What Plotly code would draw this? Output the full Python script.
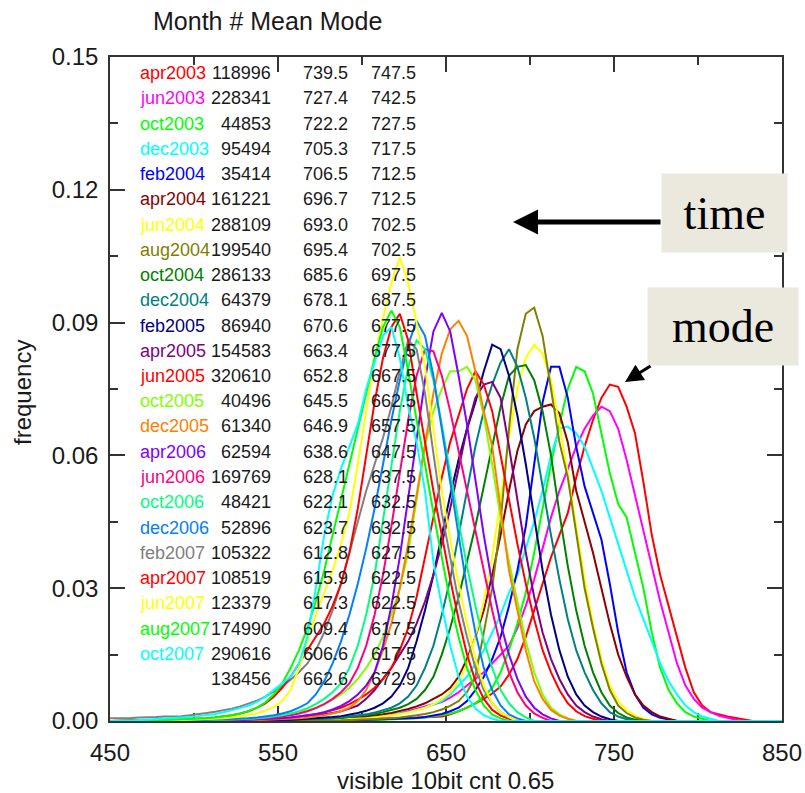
import numpy as np
import plotly.graph_objects as go

# ---- table rows: month, pixel count, mean, mode ----
months = ["apr2003", "jun2003", "oct2003", "dec2003", "feb2004", "apr2004",
          "jun2004", "aug2004", "oct2004", "dec2004", "feb2005", "apr2005",
          "jun2005", "oct2005", "dec2005", "apr2006", "jun2006", "oct2006",
          "dec2006", "feb2007", "apr2007", "jun2007", "aug2007", "oct2007"]
counts = [118996, 228341, 44853, 95494, 35414, 161221, 288109, 199540,
          286133, 64379, 86940, 154583, 320610, 40496, 61340, 62594,
          169769, 48421, 52896, 105322, 108519, 123379, 174990, 290616]
means = [739.5, 727.4, 722.2, 705.3, 706.5, 696.7, 693.0, 695.4, 685.6,
         678.1, 670.6, 663.4, 652.8, 645.5, 646.9, 638.6, 628.1, 622.1,
         623.7, 612.8, 615.9, 617.3, 609.4, 606.6]
modes = [747.5, 742.5, 727.5, 717.5, 712.5, 712.5, 702.5, 702.5, 697.5,
         687.5, 677.5, 677.5, 667.5, 662.5, 657.5, 647.5, 637.5, 632.5,
         632.5, 627.5, 622.5, 622.5, 617.5, 617.5]
total_count, total_mean, total_mode = 138456, 662.6, 672.9

colors = ["#FF0000", "#FF00FF", "#00FF00", "#00FFFF", "#0000FF", "#8B0000",
          "#FFFF00", "#808000", "#008000", "#008080", "#000080", "#800080",
          "#FF0000", "#80FF00", "#FF8000", "#8000FF", "#FF0080", "#00FF80",
          "#0080FF", "#808080", "#FF0000", "#FFFF00", "#00FF00", "#00FFFF"]

# ---- histograms: frequency x 1000 per 5-count bin, listed from first_bin ----
BIN = 5.0
first_bin = [587.5, 582.5, 602.5, 572.5, 592.5, 567.5, 577.5, 587.5, 552.5,
             547.5, 532.5, 522.5, 517.5, 512.5, 532.5, 522.5, 512.5, 507.5,
             497.5, 447.5, 482.5, 492.5, 477.5, 467.5]

f_apr2003 = [0.2, 0.25, 0.3, 0.35, 0.4, 0.45, 0.5, 0.55, 0.6, 0.7, 0.8, 0.9, 1.0, 1.5,
             2.2, 3.0, 4.0, 5.0, 6.2, 7.8, 10.5, 14, 19, 25, 31, 37, 42, 47, 55, 62,
             68, 73, 76, 75.5, 71, 65, 54, 42, 33, 26, 19, 12, 6.5, 3.5, 2, 1.5, 1,
             0.7, 0.3]
f_jun2003 = [0.2, 0.25, 0.3, 0.4, 0.5, 0.7, 1.0, 1.3, 1.7, 2.2, 2.8, 3.3, 3.8, 4.3,
             5.3, 6.5, 8, 9.5, 11, 13, 15, 17, 21, 26, 32, 39, 46, 52, 57, 62, 66,
             69, 71, 70, 66, 59, 51, 43, 35, 27, 20, 13, 8, 5, 3, 2, 1.2, 0.7, 0.3]
f_oct2003 = [0.15, 0.2, 0.25, 0.3, 0.35, 0.4, 0.6, 0.8, 1.0, 1.3, 1.7, 2.2, 3, 4,
             5.5, 7.5, 11, 16, 22, 29, 38, 48, 58, 67, 75, 80, 79, 74, 65, 56, 49,
             46, 38, 30, 20, 12, 7, 4, 2, 1, 0.5]
f_dec2003 = [0.2, 0.25, 0.3, 0.35, 0.4, 0.5, 0.7, 0.9, 1.1, 1.4, 1.7, 2, 2.5, 3,
             3.7, 4.5, 6, 8, 10, 13, 16, 20, 24, 29, 33, 39, 45, 52, 60, 66, 66.5,
             65, 62, 57, 52, 46, 40, 34, 28, 23, 18, 13, 9, 6, 3.5, 2, 1, 0.5]
f_feb2004 = [0.15, 0.2, 0.25, 0.3, 0.35, 0.4, 0.45, 0.5, 0.7, 0.9, 1.2, 1.6, 2.2, 3,
             4.5, 7, 10, 14, 19, 26, 34, 44, 58, 72, 80, 80, 73, 62, 53, 47, 41,
             31, 20, 11, 6, 3, 1.5, 0.7, 0.3]
f_apr2004 = [0.25, 0.3, 0.35, 0.4, 0.5, 0.6, 0.8, 1.0, 1.2, 1.5, 1.8, 2.2, 2.7, 3.3,
             4, 5, 6, 7.5, 10, 14, 19, 25, 33, 42, 52, 61, 67, 70, 71, 71.5, 69.5,
             63, 52, 45, 38, 30, 22, 15, 10, 6, 3.5, 2, 1, 0.5]
f_jun2004 = [0.2, 0.25, 0.3, 0.4, 0.5, 0.6, 0.8, 1.0, 1.2, 1.5, 1.9, 2.4, 3, 3.8, 5,
             6.5, 9, 13, 19, 27, 37, 50, 64, 75, 82, 85, 83, 77, 67, 56, 44, 32,
             22, 14, 8, 4.5, 2.5, 1.2, 0.5]
f_aug2004 = [0.15, 0.2, 0.25, 0.3, 0.4, 0.5, 0.6, 0.8, 1.0, 1.3, 1.6, 2.0, 2.6, 3.4,
             4.5, 6.5, 10, 20, 30, 45, 66, 84, 92, 93.4, 87, 75, 63, 55, 42, 30, 21,
             13, 7, 3.5, 1.8, 0.8, 0.3]
f_oct2004 = [0.2, 0.25, 0.3, 0.35, 0.4, 0.5, 0.6, 0.7, 0.9, 1.1, 1.3, 1.6, 2, 2.5, 3,
             3.8, 5, 7, 10, 15, 21, 28, 36, 44, 53, 62, 71, 78, 80, 80.4, 77, 70,
             60, 47, 35, 25, 17, 11, 6.5, 3.5, 1.8, 0.8, 0.3]
f_dec2004 = [0.2, 0.25, 0.3, 0.35, 0.4, 0.45, 0.5, 0.6, 0.8, 1.0, 1.2, 1.5, 1.9, 2.4,
             3, 4, 5.5, 8, 12, 17, 24, 32, 42, 52, 62, 70, 76, 81, 84, 80, 73, 64,
             53, 42, 32, 23, 16, 11, 7, 4, 2, 1, 0.4]
f_feb2005 = [0.15, 0.2, 0.2, 0.25, 0.3, 0.3, 0.4, 0.5, 0.6, 0.7, 0.9, 1.1, 1.4, 1.8,
             2.3, 3, 4, 5.5, 8, 12, 18, 25, 33, 42, 51, 59, 66, 72, 79, 85, 84, 78,
             69, 58, 46, 34, 24, 16, 10, 6, 3.5, 2, 1, 0.4]
f_apr2005 = [0.2, 0.25, 0.3, 0.3, 0.35, 0.4, 0.5, 0.6, 0.8, 1.0, 1.2, 1.5, 1.8, 2.2,
             2.8, 3.5, 5, 7, 9.5, 12, 15, 18, 22, 27, 33, 40, 48, 57, 66, 73, 76,
             76.6, 73, 62, 50, 38, 28, 20, 14, 9.5, 6, 3.5, 2, 1, 0.4]
f_jun2005 = [0.15, 0.2, 0.2, 0.25, 0.3, 0.4, 0.5, 0.6, 0.8, 1.0, 1.2, 1.5, 1.9, 2.4,
             3, 3.8, 4.8, 6, 7.5, 9.5, 12, 16, 21, 28, 37, 46, 55, 63, 69, 75, 79,
             76, 70, 60, 50, 40, 31, 23, 16, 11, 7, 4, 2.2, 1.1, 0.5]
f_oct2005 = [0.2, 0.25, 0.3, 0.4, 0.5, 0.6, 0.8, 1.0, 1.2, 1.5, 1.9, 2.4, 3, 3.8,
             4.8, 6, 7.5, 9.5, 12, 15, 19, 24, 30, 38, 50, 62, 70, 75, 79, 79, 80,
             77, 69, 58, 46, 36, 27, 18, 11, 6, 3, 1.5, 0.6]
f_dec2005 = [0.15, 0.2, 0.25, 0.3, 0.4, 0.5, 0.6, 0.8, 1.0, 1.3, 1.7, 2.2, 3, 4.5, 7,
             11, 16, 22, 30, 40, 51, 63, 74, 83, 88.5, 90.4, 87, 79, 70, 62, 48, 34,
             25, 16, 9, 5, 2.5, 1.2, 0.5]
f_apr2006 = [0.15, 0.2, 0.25, 0.3, 0.4, 0.5, 0.6, 0.8, 1.0, 1.3, 1.6, 2.0, 2.6, 3.4,
             4.5, 6, 8, 11, 17, 26, 37, 50, 64, 77, 88, 92.2, 88, 78, 67, 54, 42,
             31, 22, 15, 9.5, 5.5, 3, 1.5, 0.6]
f_jun2006 = [0.15, 0.2, 0.25, 0.3, 0.4, 0.5, 0.6, 0.8, 1.0, 1.3, 1.7, 2.2, 2.9, 3.8,
             5, 6.5, 8.5, 12, 17, 24, 33, 44, 56, 68, 78, 84, 83.5, 78, 70, 61, 52,
             43, 34, 25, 17, 11, 6.5, 3.5, 1.7, 0.7]
f_oct2006 = [0.15, 0.2, 0.25, 0.3, 0.4, 0.5, 0.6, 0.8, 1.0, 1.3, 1.7, 2.2, 2.9, 3.8,
             5, 6.5, 8.5, 12, 17, 24, 33, 45, 58, 70, 80, 86, 84, 77, 67, 56, 45,
             35, 26, 18, 12, 7, 4, 2, 0.8]
f_dec2006 = [0.15, 0.2, 0.25, 0.3, 0.3, 0.4, 0.5, 0.6, 0.8, 1.0, 1.3, 1.7, 2.2, 3, 4,
             6, 9, 13, 18, 24, 31, 39, 48, 58, 68, 77, 85, 90.4, 87, 78, 66, 53,
             42, 30, 20, 12, 7, 3.5, 1.5, 0.6]
f_feb2007 = [0.6, 0.6, 0.7, 0.7, 0.8, 0.8, 0.9, 1.0, 1.0, 1.1, 1.3, 1.5, 1.8, 2.1,
             2.4, 2.8, 3.3, 3.9, 4.6, 5.5, 6.6, 7.8, 9.3, 11, 13, 16, 20, 25, 31,
             38, 45, 52, 58, 64, 71, 79, 86, 84, 74, 60, 47, 37, 27, 19, 12, 7, 4,
             2, 0.8]
f_apr2007 = [0.2, 0.25, 0.3, 0.4, 0.5, 0.6, 0.8, 1.0, 1.3, 1.7, 2.2, 3, 4, 5.5, 7.5,
             10, 13, 16, 19, 22, 26, 31, 38, 48, 60, 72, 82, 89, 92, 86, 74, 63, 52,
             42, 32, 23, 15, 9, 5, 2.5, 1.2, 0.5]
f_jun2007 = [0.2, 0.25, 0.3, 0.4, 0.5, 0.6, 0.8, 1.0, 1.3, 1.7, 2.3, 3.2, 4.5, 7, 12,
             18, 24, 29, 34, 40, 47, 58, 70, 82, 91, 99, 104.7, 99, 90, 80, 66, 52,
             41, 31, 22, 14, 8, 4, 2, 0.8]
f_aug2007 = [0.15, 0.2, 0.25, 0.3, 0.4, 0.5, 0.6, 0.8, 1.0, 1.3, 1.7, 2.2, 3, 4.2, 6,
             8.5, 12, 16, 21, 27, 34, 42, 50, 58, 66, 74, 82, 89, 92.7, 89, 79, 68,
             58, 47, 37, 27, 19, 12, 7, 3.5, 1.5, 0.6]
f_oct2007 = [0.2, 0.3, 0.4, 0.5, 0.6, 0.7, 0.9, 1.1, 1.3, 1.6, 2.0, 2.4, 2.9, 3.5,
             4.3, 5.5, 7, 8.5, 10, 13, 19, 30, 42, 51, 57, 62, 67, 75, 81, 87, 89,
             82, 71, 63, 52, 36, 26, 17, 10, 5.5, 2.8, 1.3, 0.5]

histograms = [f_apr2003, f_jun2003, f_oct2003, f_dec2003, f_feb2004, f_apr2004,
              f_jun2004, f_aug2004, f_oct2004, f_dec2004, f_feb2005, f_apr2005,
              f_jun2005, f_oct2005, f_dec2005, f_apr2006, f_jun2006, f_oct2006,
              f_dec2006, f_feb2007, f_apr2007, f_jun2007, f_aug2007, f_oct2007]

# full bin grid; bins with no entries are empty (frequency 0)
grid = np.arange(447.5, 853.0, BIN)

fig = go.Figure()
for name, start, vals, col in zip(months, first_bin, histograms, colors):
    y = np.zeros_like(grid)
    i0 = int(round((start - grid[0]) / BIN))
    y[i0:i0 + len(vals)] = np.asarray(vals) / 1000.0
    fig.add_trace(go.Scatter(x=grid, y=y, mode="lines", name=name,
                             line=dict(color=col, width=2), showlegend=False))

# ---- geometry (pixels) ----
W, H = 805, 793
L, R, T, B = 110, 23, 57, 72
PW, PH = W - L - R, H - T - B


def fx(px):
    return (px - L) / PW


def fy(py):
    return (H - B - py) / PH


FONT = "Liberation Sans, Arial, Helvetica, sans-serif"
INK = "#1a1a1a"
AX = "#333333"

axis_common = dict(showline=True, linecolor=AX, linewidth=1.5, mirror="ticks",
                   ticks="inside", tickcolor=AX, tickwidth=1.5, ticklen=15,
                   showgrid=False, zeroline=False, automargin=False,
                   layer="below traces",
                   tickfont=dict(family=FONT, size=24, color=INK))

fig.update_xaxes(range=[450, 850], tickvals=[450, 550, 650, 750, 850],
                 minor=dict(tickvals=[500, 600, 700, 800], ticks="inside",
                            ticklen=8, tickcolor=AX, tickwidth=1.5),
                 ticklabelstandoff=9, **axis_common)
fig.update_yaxes(range=[0, 0.15], tickvals=[0, 0.03, 0.06, 0.09, 0.12, 0.15],
                 tickformat=".2f",
                 minor=dict(tickvals=[0.015, 0.045, 0.075, 0.105, 0.135],
                            ticks="inside", ticklen=8, tickcolor=AX, tickwidth=1.5),
                 ticklabelstandoff=5, **axis_common)

ann = []
# heading and axis titles
ann.append(dict(text="Month # Mean Mode", x=fx(267), y=fy(21), xref="paper",
                yref="paper", showarrow=False, xanchor="center", yanchor="middle",
                font=dict(family=FONT, size=25, color=INK)))
ann.append(dict(text="visible 10bit cnt 0.65", x=fx(445), y=fy(780), xref="paper",
                yref="paper", showarrow=False, xanchor="center", yanchor="middle",
                font=dict(family=FONT, size=24, color=INK)))
ann.append(dict(text="frequency", x=fx(22), y=fy(393), xref="paper",
                yref="paper", showarrow=False, xanchor="center", yanchor="middle",
                textangle=-90, font=dict(family=FONT, size=24, color=INK)))

# statistics table
ROW0, ROWSTEP = 73, 25.25
tfont = dict(family=FONT, size=18, color=INK)
rows = list(zip(months, counts, means, modes, colors))
rows.append(("", total_count, total_mean, total_mode, INK))
for i, (mon, cnt, mean, mode, col) in enumerate(rows):
    yc = fy(ROW0 + ROWSTEP * i)
    if mon:
        ann.append(dict(text=mon, x=fx(138), y=yc, xref="paper", yref="paper",
                        showarrow=False, xanchor="left", yanchor="middle",
                        font=dict(family=FONT, size=18, color=col)))
    ann.append(dict(text=str(cnt), x=fx(273), y=yc, xref="paper", yref="paper",
                    showarrow=False, xanchor="right", yanchor="middle", font=tfont))
    ann.append(dict(text=f"{mean:.1f}", x=fx(350), y=yc, xref="paper", yref="paper",
                    showarrow=False, xanchor="right", yanchor="middle", font=tfont))
    ann.append(dict(text=f"{mode:.1f}", x=fx(418), y=yc, xref="paper", yref="paper",
                    showarrow=False, xanchor="right", yanchor="middle", font=tfont))

# callout boxes
BOX = "#EBE8DE"
SERIF = "Liberation Serif, Times New Roman, serif"
ann.append(dict(text="time", x=fx(724.5), y=fy(213), xref="paper", yref="paper",
                showarrow=False, xanchor="center", yanchor="middle",
                width=125, height=78, bgcolor=BOX, borderpad=0,
                font=dict(family=SERIF, size=46, color="black")))
ann.append(dict(text="mode", x=fx(723), y=fy(326.5), xref="paper", yref="paper",
                showarrow=False, xanchor="center", yanchor="middle",
                width=150, height=77, bgcolor=BOX, borderpad=0,
                font=dict(family=SERIF, size=46, color="black")))
# arrows
ann.append(dict(text="", x=fx(513), y=fy(222), xref="paper", yref="paper",
                showarrow=True, ax=149, ay=0, arrowhead=2, arrowsize=1.0,
                arrowwidth=5, arrowcolor="black", standoff=0))
ann.append(dict(text="", x=fx(625), y=fy(382), xref="paper", yref="paper",
                showarrow=True, ax=27, ay=-17, arrowhead=2, arrowsize=1.2,
                arrowwidth=3, arrowcolor="black", standoff=0))

fig.update_layout(width=W, height=H, margin=dict(l=L, r=R, t=T, b=B),
                  paper_bgcolor="white", plot_bgcolor="white",
                  annotations=ann, showlegend=False)

fig.write_html("out.html")
